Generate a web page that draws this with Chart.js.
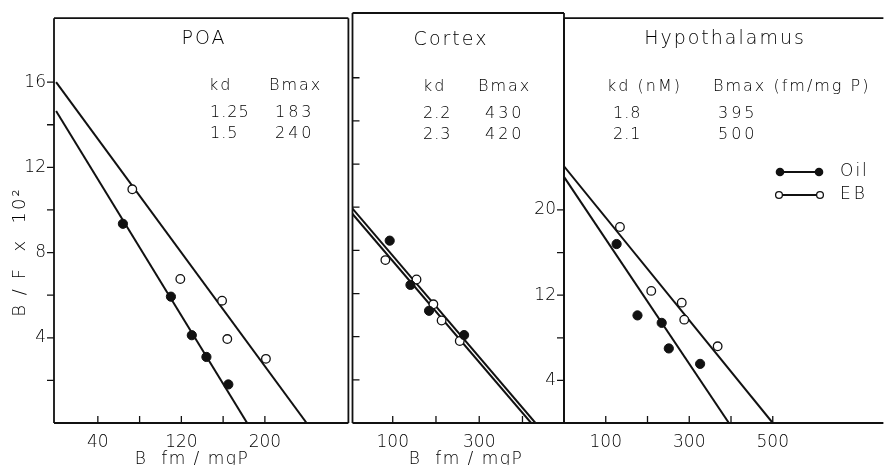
<!DOCTYPE html>
<html>
<head>
<meta charset="utf-8">
<script src="https://cdn.jsdelivr.net/npm/chart.js@4.4.1/dist/chart.umd.min.js"></script>
<style>
  html, body { margin: 0; padding: 0; background: #fff; }
  #wrap { position: relative; width: 889px; height: 465px; overflow: hidden; background: #fff; }
  canvas { position: absolute; top: 0; }
</style>
</head>
<body>
<div id="wrap">
  <canvas id="poa"></canvas>
  <canvas id="cortex"></canvas>
  <canvas id="hypo"></canvas>
</div>
<script>
// Scatchard plots: B/F (x 10^2) against bound ligand B (fm/mg protein)

// POA
const poaOilB  = [64, 110, 130, 144, 165];
const poaOilBF = [9.35, 5.93, 4.12, 3.10, 1.81];
const poaEbB   = [73, 119, 159, 164, 201];
const poaEbBF  = [10.97, 6.76, 5.74, 3.94, 3.01];
const poaKd    = ['1.25', '1.5'];
const poaBmax  = [183, 240];
const poaFitTop = [14.64, 16.0];   // B/F where each fitted line meets the axis

// Cortex
const ctxOilB  = [93, 141, 184, 265];
const ctxOilBF = [16.9, 12.8, 10.4, 8.15];
const ctxEbB   = [83, 155, 194, 213, 255];
const ctxEbBF  = [15.1, 13.3, 11.0, 9.5, 7.6];
const ctxKd    = ['2.2', '2.3'];
const ctxBmax  = [430, 420];
const ctxFitTop = [20.2, 19.7];

// Hypothalamus
const hypOilB  = [126, 176, 234, 251, 326];
const hypOilBF = [16.8, 10.1, 9.4, 7.0, 5.55];
const hypEbB   = [134, 209, 282, 288, 368];
const hypEbBF  = [18.4, 12.4, 11.3, 9.7, 7.2];
const hypKd    = ['1.8', '2.1'];
const hypBmax  = [395, 500];
const hypFitTop = [23.1, 24.1];

// axis ticks
const poaXLabels = [40, 120, 200];
const poaXTicks  = [40, 80, 120, 160, 200];
const poaYLabels = [4, 8, 12, 16];
const poaYTicks  = [2, 4, 6, 8, 10, 12, 14, 16];
const ctxXLabels = [100, 300];
const ctxXTicks  = [100, 200, 300, 400];
const ctxYTicks  = [4, 8, 12, 16, 20, 24, 28, 32];
const hypXLabels = [100, 300, 500];
const hypXTicks  = [100, 200, 300, 400, 500];
const hypYLabels = [4, 12, 20];
const hypYTicks  = [4, 8, 12, 16, 20];

const FONT = '"DejaVu Sans", sans-serif';
const WEIGHT = '200';
const INK = '#111';
const TEXT = '#000';
const H = 465;

function pts(xs, ys) {
  return xs.map((x, i) => ({ x: x, y: ys[i] }));
}
function fitLine(top, bmax) {
  return [{ x: 0, y: top }, { x: bmax, y: 0 }];
}

function txt(ctx, s, x, y, size, align, spacing) {
  ctx.save();
  ctx.font = WEIGHT + ' ' + size + 'px ' + FONT;
  ctx.fillStyle = TEXT;
  ctx.textAlign = align || 'left';
  ctx.textBaseline = 'middle';
  ctx.letterSpacing = (spacing || 0) + 'px';
  ctx.fillText(s, x, y);
  ctx.restore();
}

function dataSets(oilB, oilBF, ebB, ebBF, fitTop, bmax) {
  return [
    { label: 'Oil', data: pts(oilB, oilBF), order: 1,
      pointRadius: 4.6, pointBackgroundColor: INK, pointBorderColor: INK, pointBorderWidth: 1 },
    { label: 'EB', data: pts(ebB, ebBF), order: 1,
      pointRadius: 4.3, pointBackgroundColor: '#fff', pointBorderColor: INK, pointBorderWidth: 1.3 },
    { label: 'Oil fit', data: fitLine(fitTop[0], bmax[0]), order: 2, showLine: true,
      borderColor: INK, borderWidth: 2, pointRadius: 0 },
    { label: 'EB fit', data: fitLine(fitTop[1], bmax[1]), order: 2, showLine: true,
      borderColor: INK, borderWidth: 2, pointRadius: 0 }
  ];
}

// frame, tick marks and the free text of each panel
const panelDecor = {
  id: 'panelDecor',
  afterDraw(chart, args, o) {
    const ctx = chart.ctx;
    const a = chart.chartArea;
    const xs = chart.scales.x, ys = chart.scales.y;
    ctx.save();
    ctx.strokeStyle = INK;
    ctx.lineWidth = 1.8;
    ctx.beginPath();
    ctx.moveTo(a.left, a.top); ctx.lineTo(a.right, a.top);
    ctx.moveTo(a.left, a.top); ctx.lineTo(a.left, a.bottom);
    ctx.moveTo(a.left, a.bottom); ctx.lineTo(a.right, a.bottom);
    if (o.rightEdge) { ctx.moveTo(a.right, a.top); ctx.lineTo(a.right, a.bottom); }
    ctx.stroke();

    ctx.lineWidth = 1.3;
    ctx.beginPath();
    o.xTicks.forEach(v => {
      const px = xs.getPixelForValue(v);
      ctx.moveTo(px, a.bottom); ctx.lineTo(px, a.bottom - 7);
    });
    const dir = o.yTicksOut ? -1 : 1;
    o.yTicks.forEach(v => {
      const py = ys.getPixelForValue(v);
      ctx.moveTo(a.left, py); ctx.lineTo(a.left + dir * 7, py);
    });
    ctx.stroke();
    ctx.restore();

    const off = o.canvasLeft;
    o.notes.forEach(n => txt(ctx, n.t, n.x - off, n.y, n.size || 16, n.align, n.sp));
    if (o.extra) o.extra(ctx, off);
  }
};

function tickFont() {
  return { family: FONT, size: 17, weight: WEIGHT };
}

function makePanel(id, p) {
  const el = document.getElementById(id);
  el.width = p.canvasRight - p.canvasLeft;
  el.height = H;
  el.style.left = p.canvasLeft + 'px';
  el.style.width = el.width + 'px';
  el.style.height = H + 'px';
  const yWidth = p.yLabels ? p.left - p.canvasLeft : 0;
  return new Chart(el, {
    type: 'scatter',
    data: { datasets: p.datasets },
    options: {
      responsive: false,
      animation: false,
      events: [],
      layout: { padding: {
        left: p.yLabels ? 0 : p.left - p.canvasLeft,
        right: p.canvasRight - p.right,
        top: p.top, bottom: 0 } },
      plugins: {
        legend: { display: false },
        tooltip: { enabled: false },
        panelDecor: {
          canvasLeft: p.canvasLeft, rightEdge: p.rightEdge,
          xTicks: p.xTicks, yTicks: p.yTicks, yTicksOut: p.yTicksOut,
          notes: p.notes, extra: p.extra
        }
      },
      scales: {
        x: {
          type: 'linear', min: p.xMin, max: p.xMax,
          grid: { display: false, drawTicks: false }, border: { display: false },
          afterBuildTicks: s => { s.ticks = p.xLabels.map(v => ({ value: v })); },
          afterFit: s => { s.height = H - p.bottom; },
          ticks: { autoSkip: false, maxRotation: 0, padding: 9, color: TEXT, font: tickFont(),
                   callback: v => String(v) }
        },
        y: {
          type: 'linear', min: 0, max: p.yMax,
          display: !!p.yLabels,
          grid: { display: false, drawTicks: false }, border: { display: false },
          afterBuildTicks: s => { s.ticks = (p.yLabels || []).map(v => ({ value: v })); },
          afterFit: s => { s.width = yWidth; },
          ticks: { autoSkip: false, padding: 8, color: TEXT, font: tickFont(),
                   callback: v => String(v) }
        }
      }
    },
    plugins: [panelDecor]
  });
}

function tableNotes(x1, x2, y0, head1, head2, kd, bmax, vx1, vx2) {
  const out = [
    { t: head1, x: x1, y: y0, sp: 2 },
    { t: head2, x: x2, y: y0, sp: 2 }
  ];
  kd.forEach((k, i) => {
    out.push({ t: k, x: vx1, y: y0 + 27 + i * 21, sp: 1 });
    out.push({ t: String(bmax[i]), x: vx2, y: y0 + 27 + i * 21, sp: 3 });
  });
  return out;
}

makePanel('poa', {
  canvasLeft: 0, canvasRight: 354, left: 54, right: 352, top: 13, bottom: 423,
  xMin: -2, xMax: 280, yMax: 19, rightEdge: true,
  xLabels: poaXLabels, xTicks: poaXTicks, yLabels: poaYLabels, yTicks: poaYTicks, yTicksOut: true,
  datasets: dataSets(poaOilB, poaOilBF, poaEbB, poaEbBF, poaFitTop, poaBmax),
  notes: [{ t: 'POA', x: 204, y: 39, size: 19, align: 'center', sp: 2 }]
    .concat(tableNotes(209, 269, 86, 'kd', 'Bmax', poaKd, poaBmax, 210, 275))
    .concat([{ t: 'B  fm / mgP', x: 192, y: 460, size: 17, align: 'center', sp: 1.5 }]),
  extra: (ctx) => {
    ctx.save();
    ctx.translate(20, 252);
    ctx.rotate(-Math.PI / 2);
    txt(ctx, 'B / F  x  10\u00b2', 0, 0, 18, 'center', 2);
    ctx.restore();
  }
});

makePanel('cortex', {
  canvasLeft: 340, canvasRight: 572, left: 352.5, right: 564, top: 13, bottom: 423,
  xMin: 7, xMax: 496, yMax: 38, rightEdge: true,
  xLabels: ctxXLabels, xTicks: ctxXTicks, yLabels: null, yTicks: ctxYTicks, yTicksOut: false,
  datasets: dataSets(ctxOilB, ctxOilBF, ctxEbB, ctxEbBF, ctxFitTop, ctxBmax),
  notes: [{ t: 'Cortex', x: 451, y: 40, size: 19, align: 'center', sp: 2 }]
    .concat(tableNotes(423, 478, 87, 'kd', 'Bmax', ctxKd, ctxBmax, 423, 485))
    .concat([{ t: 'B  fm / mgP', x: 466, y: 460, size: 17, align: 'center', sp: 1.5 }])
});

makePanel('hypo', {
  canvasLeft: 520, canvasRight: 889, left: 564, right: 889, top: 13, bottom: 423,
  xMin: 0, xMax: 765, yMax: 38, rightEdge: false,
  xLabels: hypXLabels, xTicks: hypXTicks, yLabels: hypYLabels, yTicks: hypYTicks, yTicksOut: true,
  datasets: dataSets(hypOilB, hypOilBF, hypEbB, hypEbBF, hypFitTop, hypBmax),
  notes: [{ t: 'Hypothalamus', x: 725, y: 39, size: 19, align: 'center', sp: 2 }]
    .concat(tableNotes(607, 713, 87, 'kd (nM)', 'Bmax (fm/mg P)', hypKd, hypBmax, 613, 718)),
  extra: (ctx, off) => {
    // legend: filled = Oil, open = EB
    ctx.save();
    ctx.strokeStyle = INK;
    ctx.lineWidth = 2;
    ctx.beginPath();
    ctx.moveTo(780 - off, 172); ctx.lineTo(819 - off, 172);
    ctx.moveTo(779 - off, 195); ctx.lineTo(820 - off, 195);
    ctx.stroke();
    ctx.fillStyle = INK;
    [780, 819].forEach(x => { ctx.beginPath(); ctx.arc(x - off, 172, 4.3, 0, Math.PI * 2); ctx.fill(); });
    ctx.fillStyle = '#fff';
    ctx.lineWidth = 1.3;
    [779, 820].forEach(x => { ctx.beginPath(); ctx.arc(x - off, 195, 3.4, 0, Math.PI * 2); ctx.fill(); ctx.stroke(); });
    ctx.restore();
    txt(ctx, 'Oil', 840 - off, 172, 17, 'left', 2);
    txt(ctx, 'EB', 840 - off, 195, 17, 'left', 3);
  }
});
</script>
</body>
</html>
